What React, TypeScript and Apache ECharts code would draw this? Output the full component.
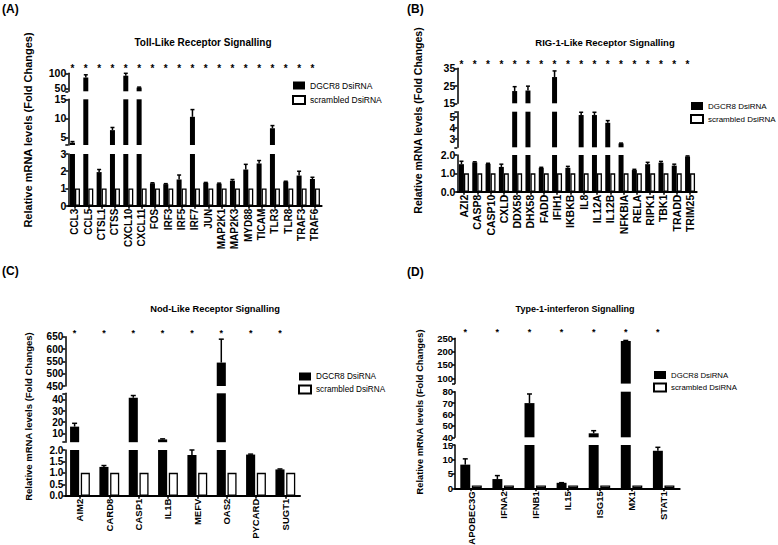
import React, { useEffect, useRef } from 'react';
import * as echarts from 'echarts';

const FONT = '"Liberation Sans", Arial, Helvetica, sans-serif';
const seriesNames = ['DGCR8 DsiRNA', 'scrambled DsiRNA'];

// ---------- (A) Toll-Like Receptor Signalling ----------
const tlrGenes = ['CCL3', 'CCL5', 'CTSL1', 'CTSS', 'CXCL10', 'CXCL11', 'FOS', 'IRF3', 'IRF5', 'IRF7', 'JUN', 'MAP2K1', 'MAP2K3', 'MYD88', 'TICAM', 'TLR3', 'TLR8', 'TRAF3', 'TRAF6'];
const tlrDgcr8 = [3.6, 86, 1.95, 6.9, 92, 52.5, 1.3, 1.25, 1.52, 10.4, 1.33, 1.28, 1.45, 2.1, 2.45, 7.4, 1.4, 1.75, 1.55];
const tlrDgcr8Err = [3.9, 95, 2.1, 7.6, 100, 54, 1.33, 1.28, 1.78, 12.3, 1.35, 1.31, 1.52, 2.4, 2.62, 8.1, 1.42, 2.0, 1.65];
const tlrScrambled = [1, 1, 1, 1, 1, 1, 1, 1, 1, 1, 1, 1, 1, 1, 1, 1, 1, 1, 1];
const tlrRanges = [[0, 3], [3, 15], [40, 100]];
const tlrTickLabels = [[0, 1, 2, 3], [5, 10, 15], [50, 100]];

// ---------- (B) RIG-1-Like Receptor Signalling ----------
const rlrGenes = ['AZI2', 'CASP8', 'CASP10', 'CXLD', 'DDX58', 'DHX58', 'FADD', 'IFIH1', 'IKBKB', 'IL8', 'IL12A', 'IL12B', 'NFKBIA', 'RELA', 'RIPK1', 'TBK1', 'TRADD', 'TRIM25'];
const rlrDgcr8 = [1.5, 1.6, 1.52, 1.35, 22, 22.3, 1.3, 30, 1.3, 5.15, 5.15, 4.45, 2.6, 1.18, 1.5, 1.58, 1.42, 1.92];
const rlrDgcr8Err = [1.66, 1.63, 1.55, 1.5, 24.5, 24.8, 1.33, 33.5, 1.38, 5.4, 5.4, 4.65, 2.63, 1.22, 1.6, 1.65, 1.5, 1.95];
const rlrScrambled = [1, 1, 1, 1, 1, 1, 1, 1, 1, 1, 1, 1, 1, 1, 1, 1, 1, 1];
const rlrRanges = [[0, 2], [2.25, 5.45], [15, 35]];
const rlrTickLabels = [[0, 0.5, 1, 1.5, 2], [3, 4, 5], [15, 20, 25, 30, 35]];

// ---------- (C) Nod-Like Receptor Signalling ----------
const nlrGenes = ['AIM2', 'CARD8', 'CASP1', 'IL1B', 'MEFV', 'OAS2', 'PYCARD', 'SUGT1'];
const nlrDgcr8 = [16, 1.26, 42, 4.5, 1.78, 545, 1.8, 1.15];
const nlrDgcr8Err = [19, 1.32, 44, 5, 2.0, 640, 1.82, 1.17];
const nlrScrambled = [1, 1, 1, 1, 1, 1, 1, 1];
const nlrRanges = [[0, 2], [2, 46], [450, 650]];
const nlrTickLabels = [[0, 0.5, 1, 1.5, 2], [10, 20, 30, 40], [450, 500, 550, 600, 650]];

// ---------- (D) Type-1-interferon Signalling ----------
const ifnGenes = ['APOBEC3G', 'IFNA2', 'IFNB1', 'IL15', 'ISG15', 'MX1', 'STAT1'];
const ifnDgcr8 = [8.2, 3.2, 70, 1.9, 43.5, 240, 13];
const ifnDgcr8Err = [10.2, 4.4, 78, 1.95, 45.8, 242, 14.2];
const ifnScrambled = [1, 1, 1, 1, 1, 1, 1];
const ifnRanges = [[0, 15], [40, 80], [80, 250]];
const ifnTickLabels = [[0, 5, 10, 15], [40, 50, 60, 70, 80], [100, 150, 200, 250]];

const yAxisName = 'Relative mRNA levels (Fold Changes)';

type Layout = {
  left: number; width: number; tops: number[]; heights: number[];
  barWidth: string; barGap: string; offset: number; capW: number;
  xFont: number; yFont: number; decimals: number[];
  title: [number, number, number]; starY: number; starFont: number;
  legend: [number, number, number, number]; yName: [number, number, number];
  letter: [number, number];
};

const panels = [
  {
    letter: '(A)', title: 'Toll-Like Receptor Signalling', genes: tlrGenes, dg: tlrDgcr8, err: tlrDgcr8Err, sc: tlrScrambled,
    ranges: tlrRanges, tickLabels: tlrTickLabels,
    L: {
      left: 68.3, width: 253.3, tops: [154, 99.3, 73.3], heights: [51.7, 45.7, 18],
      barWidth: '37.5%', barGap: '0%', offset: -0.1875, capW: 4,
      xFont: 10, yFont: 10.5, decimals: [0, 0, 0],
      title: [203, 42.7, 10], starY: 65.5, starFont: 10,
      legend: [292, 81, 8.5, 5], yName: [28, 130, 11], letter: [2, 9],
    } as Layout,
  },
  {
    letter: '(B)', title: 'RIG-1-Like Receptor Signalling', genes: rlrGenes, dg: rlrDgcr8, err: rlrDgcr8Err, sc: rlrScrambled,
    ranges: rlrRanges, tickLabels: rlrTickLabels,
    L: {
      left: 457.3, width: 239.4, tops: [155, 111.7, 68.3], heights: [36.7, 35.6, 35],
      barWidth: '37.5%', barGap: '0%', offset: -0.1875, capW: 4,
      xFont: 10.5, yFont: 10.5, decimals: [1, 0, 0],
      title: [605, 42, 9.5], starY: 61.7, starFont: 10,
      legend: [690, 102, 8, 4], yName: [418.3, 120.5, 10.5], letter: [407, 9],
    } as Layout,
  },
  {
    letter: '(C)', title: 'Nod-Like Receptor Signalling', genes: nlrGenes, dg: nlrDgcr8, err: nlrDgcr8Err, sc: nlrScrambled,
    ranges: nlrRanges, tickLabels: nlrTickLabels,
    L: {
      left: 65.3, width: 234.7, tops: [450, 393.3, 336.7], heights: [45.7, 48.9, 49.3],
      barWidth: '31%', barGap: '18%', offset: -0.183, capW: 5,
      xFont: 9.5, yFont: 10, decimals: [1, 0, 0],
      title: [215, 309, 9.3], starY: 330.7, starFont: 9,
      legend: [298, 372.5, 8.2, 4], yName: [28.3, 416.5, 9.5], letter: [2, 271],
    } as Layout,
  },
  {
    letter: '(D)', title: 'Type-1-interferon Signalling', genes: ifnGenes, dg: ifnDgcr8, err: ifnDgcr8Err, sc: ifnScrambled,
    ranges: ifnRanges, tickLabels: ifnTickLabels,
    L: {
      left: 455, width: 224.7, tops: [445, 391.7, 338.3], heights: [43.3, 45.6, 45.3],
      barWidth: '31%', barGap: '16%', offset: -0.18, capW: 5,
      xFont: 9.5, yFont: 9.5, decimals: [0, 0, 0],
      title: [575, 309, 9], starY: 329, starFont: 9,
      legend: [653, 371, 7.8, 3.5], yName: [420, 412, 9.3], letter: [407, 272],
    } as Layout,
  },
];

function buildOption() {
  const grid: any[] = [];
  const xAxis: any[] = [];
  const yAxis: any[] = [];
  const series: any[] = [];
  const graphic: any[] = [];
  const legend: any[] = [];

  panels.forEach((p) => {
    const L = p.L;
    const nSeg = p.ranges.length;
    p.ranges.forEach((rng, s) => {
      const idx = grid.length;
      const isBottom = s === 0;
      grid.push({
        left: L.left, width: L.width, top: L.tops[s], height: L.heights[s],
        containLabel: false, outerBoundsMode: 'none',
      });
      xAxis.push({
        gridIndex: idx, type: 'category', data: p.genes, show: isBottom,
        axisLine: { show: true, onZero: false, lineStyle: { color: '#000', width: 2 } },
        axisTick: { show: true, alignWithLabel: true, length: 3, lineStyle: { color: '#000', width: 1.5 } },
        axisLabel: {
          show: isBottom, rotate: 90, interval: 0, margin: 3, color: '#000', fontWeight: 'bold',
          fontSize: L.xFont, fontFamily: FONT,
        },
        splitLine: { show: false },
      });
      const labels = p.tickLabels[s];
      const ticks = Array.from(new Set([rng[0], ...labels, rng[1]]));
      const dec = L.decimals[s];
      yAxis.push({
        gridIndex: idx, type: 'value', min: rng[0], max: rng[1],
        axisLine: { show: true, lineStyle: { color: '#000', width: 1.5 } },
        axisTick: { show: true, length: 3, customValues: ticks, lineStyle: { color: '#000', width: 1.5 } },
        axisLabel: {
          customValues: labels, margin: 2, color: '#000', fontWeight: 'bold',
          fontSize: L.yFont, fontFamily: FONT, showMinLabel: true, showMaxLabel: true, hideOverlap: false,
          formatter: (v: number) => Number(v).toFixed(dec),
        },
        splitLine: { show: false },
      });
      series.push({
        type: 'bar', name: seriesNames[0], xAxisIndex: idx, yAxisIndex: idx, data: p.dg,
        barWidth: L.barWidth, barGap: L.barGap, clip: true, silent: true,
        itemStyle: { color: '#000' },
      });
      series.push({
        type: 'bar', name: seriesNames[1], xAxisIndex: idx, yAxisIndex: idx, data: p.sc,
        barWidth: L.barWidth, barGap: L.barGap, clip: true, silent: true,
        itemStyle: { color: '#fff', borderColor: '#000', borderWidth: 1.3 },
      });
      const offset = L.offset;
      const capW = L.capW;
      series.push({
        type: 'custom', xAxisIndex: idx, yAxisIndex: idx, silent: true, z: 5,
        encode: { x: 0, y: 1 },
        data: p.dg.map((v, i) => [i, v, p.err[i]]),
        renderItem: (params: any, api: any) => {
          const i = api.value(0);
          const v = api.value(1);
          const e = api.value(2);
          const cs = params.coordSys;
          const band = api.size([1, 0])[0];
          const x = api.coord([i, 0])[0] + offset * band;
          const yV = api.coord([i, v])[1];
          const yE = api.coord([i, e])[1];
          const top = cs.y;
          const bot = cs.y + cs.height;
          const children: any[] = [];
          const y1 = Math.max(yE, top);
          const y2 = Math.min(yV, bot);
          if (y1 < y2) {
            children.push({ type: 'line', shape: { x1: x, y1, x2: x, y2 }, style: { stroke: '#000', lineWidth: 1.5 } });
          }
          if (yE >= top - 0.5 && yE < bot - 0.5) {
            children.push({ type: 'line', shape: { x1: x - capW / 2, y1: yE, x2: x + capW / 2, y2: yE }, style: { stroke: '#000', lineWidth: 1.5 } });
          }
          return { type: 'group', children };
        },
      });
      if (s === nSeg - 1) {
        const starY = L.starY;
        const starFont = L.starFont;
        series.push({
          type: 'custom', xAxisIndex: idx, yAxisIndex: idx, silent: true, z: 5,
          encode: { x: 0, y: 1 },
          data: p.genes.map((_g, i) => [i, rng[1]]),
          renderItem: (_params: any, api: any) => {
            const i = api.value(0);
            const band = api.size([1, 0])[0];
            const x = api.coord([i, 0])[0] + offset * band;
            return {
              type: 'text', x, y: starY + 2.5,
              style: { text: '*', align: 'center', verticalAlign: 'middle', fontSize: starFont, fontWeight: 'bold', fontFamily: FONT, fill: '#000' },
            };
          },
        });
      }
    });

    legend.push({
      data: seriesNames, orient: 'vertical', left: L.legend[0], top: L.legend[1],
      itemWidth: 12, itemHeight: 8, itemGap: L.legend[3], icon: 'rect', selectedMode: false,
      padding: 0,
      textStyle: { fontSize: L.legend[2], fontFamily: FONT, color: '#000', padding: [0, 0, 0, 0] },
    });

    graphic.push({
      type: 'text', x: L.title[0], y: L.title[1],
      style: { text: p.title, align: 'center', verticalAlign: 'middle', fontSize: L.title[2], fontWeight: 'bold', fontFamily: FONT, fill: '#000' },
    });
    graphic.push({
      type: 'text', x: L.letter[0], y: L.letter[1],
      style: { text: p.letter, align: 'left', verticalAlign: 'middle', fontSize: 12, fontWeight: 'bold', fontFamily: FONT, fill: '#000' },
    });
    graphic.push({
      type: 'text', x: L.yName[0], y: L.yName[1], rotation: Math.PI / 2,
      style: { text: yAxisName, align: 'center', verticalAlign: 'middle', fontSize: L.yName[2], fontWeight: 'bold', fontFamily: FONT, fill: '#000' },
    });
  });

  return {
    animation: false,
    backgroundColor: '#fff',
    textStyle: { fontFamily: FONT },
    grid, xAxis, yAxis, series, legend, graphic,
  };
}

export default function App() {
  const ref = useRef<HTMLDivElement>(null);
  useEffect(() => {
    if (!ref.current) return;
    const chart = echarts.init(ref.current, undefined, { renderer: 'svg' });
    chart.setOption(buildOption() as any);
    return () => chart.dispose();
  }, []);
  return <div ref={ref} style={{ position: 'fixed', left: 0, top: 0, width: 778, height: 545, background: '#fff' }} />;
}
